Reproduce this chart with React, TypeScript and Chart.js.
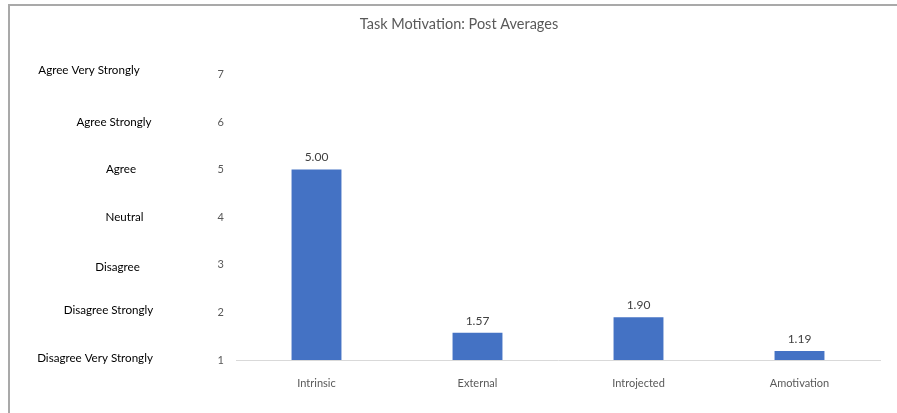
import React, { useEffect, useRef } from "react";
import { Chart, registerables } from "chart.js";

Chart.register(...registerables);

const categories = ["Intrinsic", "External", "Introjected", "Amotivation"];
const postAverages = [5.0, 1.57, 1.9, 1.19];
const scaleValues = [7, 6, 5, 4, 3, 2, 1];
const scaleLabels = [
  "Agree Very Strongly",
  "Agree Strongly",
  "Agree",
  "Neutral",
  "Disagree",
  "Disagree Strongly",
  "Disagree Very Strongly",
];
// layout of the left-hand text boxes (center x, vertical nudge)
const scaleLabelCenterX = [89, 114, 121, 124.5, 117.5, 108.5, 95];
const scaleLabelDy = [-4, 0, 0, 0, 2, -2, -2];

const FONT = "Lato, 'Open Sans', sans-serif";

const framePlugin = {
  id: "frame",
  beforeDraw(chart: any) {
    const { ctx, width, height } = chart;
    ctx.save();
    ctx.fillStyle = "#ffffff";
    ctx.fillRect(0, 0, width, height);
    ctx.strokeStyle = "#a9a9a9";
    ctx.lineWidth = 2;
    ctx.beginPath();
    ctx.moveTo(9, height);
    ctx.lineTo(9, 5);
    ctx.lineTo(width, 5);
    ctx.stroke();
    ctx.restore();
  },
};

const sideLabelsPlugin = {
  id: "sideLabels",
  afterDraw(chart: any) {
    const { ctx } = chart;
    const y = chart.scales.y;
    ctx.save();
    ctx.font = `11.6px ${FONT}`;
    ctx.fillStyle = "#000000";
    ctx.textAlign = "center";
    ctx.textBaseline = "middle";
    scaleLabels.forEach((lab, i) => {
      const py = y.getPixelForValue(scaleValues[i]) + scaleLabelDy[i];
      ctx.fillText(lab, scaleLabelCenterX[i], py);
    });
    ctx.restore();
  },
};

const valueLabelsPlugin = {
  id: "valueLabels",
  afterDatasetsDraw(chart: any) {
    const { ctx } = chart;
    const meta = chart.getDatasetMeta(0);
    ctx.save();
    ctx.font = `12px ${FONT}`;
    ctx.fillStyle = "#404040";
    ctx.textAlign = "center";
    ctx.textBaseline = "middle";
    meta.data.forEach((bar: any, i: number) => {
      ctx.fillText(postAverages[i].toFixed(2), bar.x, bar.y - 12);
    });
    ctx.restore();
  },
};

export default function App() {
  const ref = useRef<HTMLCanvasElement>(null);
  useEffect(() => {
    if (!ref.current) return;
    const chart = new Chart(ref.current, {
      type: "bar",
      data: {
        labels: categories,
        datasets: [
          {
            label: "Post Averages",
            data: postAverages,
            backgroundColor: "#4472C4",
            barPercentage: 0.31,
            categoryPercentage: 1,
          },
        ],
      },
      options: {
        responsive: false,
        animation: false,
        layout: { padding: { left: 38, right: 17, top: 0, bottom: 0 } },
        plugins: {
          legend: { display: false },
          tooltip: { enabled: false },
          title: {
            display: true,
            text: "Task Motivation: Post Averages",
            color: "#595959",
            font: { family: FONT, size: 14.5, weight: "normal" },
            padding: { top: 16, bottom: 41 },
          },
        },
        scales: {
          x: {
            grid: { display: false },
            border: { display: true, color: "#d9d9d9", width: 1 },
            ticks: {
              color: "#595959",
              font: { family: FONT, size: 11 },
              padding: 9,
              maxRotation: 0,
            },
            afterFit: (s: any) => {
              s.height = 53;
            },
          },
          y: {
            min: 1,
            max: 7,
            grid: { display: false },
            border: { display: false },
            ticks: {
              stepSize: 1,
              color: "#595959",
              font: { family: FONT, size: 11 },
              padding: 4,
            },
            afterFit: (s: any) => {
              s.width = 198;
            },
          },
        },
      },
      plugins: [framePlugin, sideLabelsPlugin, valueLabelsPlugin],
    });
    return () => chart.destroy();
  }, []);
  return (
    <div style={{ position: "absolute", left: 0, top: 0, width: 897, height: 413 }}>
      <canvas ref={ref} width={897} height={413} style={{ width: 897, height: 413 }} />
    </div>
  );
}
